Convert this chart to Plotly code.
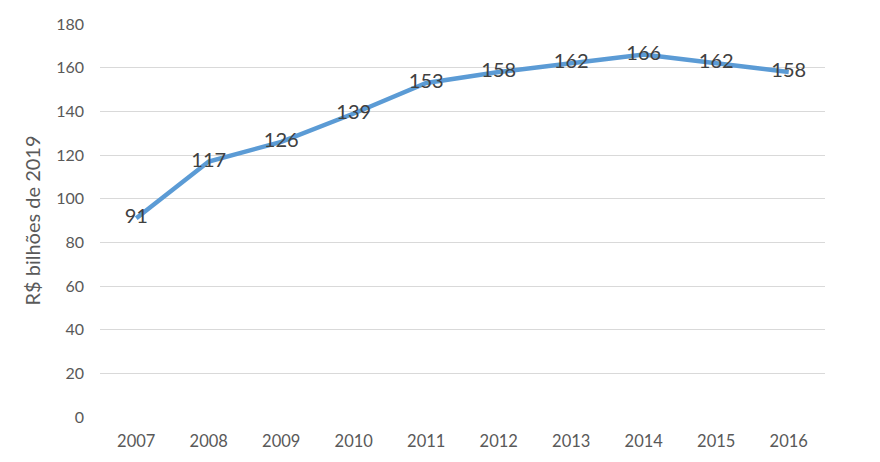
import plotly.graph_objects as go

anos = ["2007", "2008", "2009", "2010", "2011", "2012", "2013", "2014", "2015", "2016"]
valores = [91, 117, 126, 139, 153, 158, 162, 166, 162, 158]

fig = go.Figure()
fig.add_trace(go.Scatter(
    x=anos, y=valores, mode="lines+text",
    text=[str(v) for v in valores], textposition="middle center",
    textfont=dict(family="Lato", size=20, color="#404040"),
    line=dict(color="#5B9BD5", width=4.5),
    cliponaxis=False, showlegend=False,
))

# the page body adds an 8px offset, so margins are shifted to compensate
fig.update_layout(
    width=880, height=462,
    margin=dict(l=92, r=63, t=16, b=53),
    plot_bgcolor="white", paper_bgcolor="white",
    font=dict(family="Lato", color="#595959", size=14),
)
fig.update_xaxes(type="category", showgrid=False, showline=False, ticks="",
                 automargin=False, ticklabelstandoff=12,
                 tickfont=dict(size=16.5, color="#595959"))
fig.update_yaxes(range=[0, 180], dtick=20, showgrid=True, gridcolor="#D9D9D9",
                 gridwidth=1, zeroline=False, showline=False, ticks="",
                 automargin=False, ticklabelstandoff=15,
                 tickfont=dict(size=16, color="#595959"),
                 title=dict(text="R$ bilhões de 2019", font=dict(size=20, color="#595959"),
                            standoff=10))

fig.write_html("out.html")
